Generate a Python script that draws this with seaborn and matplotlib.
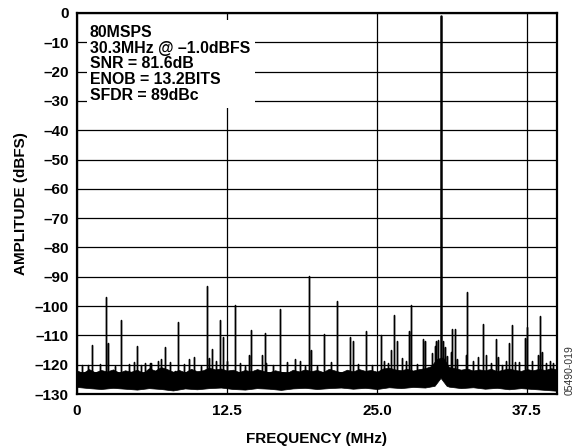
import matplotlib
matplotlib.use("Agg")
import matplotlib.pyplot as plt
import seaborn as sns
import pandas as pd
from matplotlib.patches import Rectangle

# ---------------- data ----------------
fund_freq = 30.3
fund_amp = -1.0

spur_freq = [0.89, 1.28, 2.39, 2.55, 3.64, 4.75, 4.97, 5.67, 6.08, 6.2, 6.72, 7.0, 7.33,
             7.75, 8.17, 8.42, 9.36, 9.75, 10.86, 11.0, 11.22, 11.56, 11.92, 12.14, 12.53,
             13.19, 14.33, 14.5, 15.42, 15.64, 15.75, 16.89, 18.17, 19.0, 19.33, 19.5,
             20.58, 21.69, 22.75, 22.97, 24.06, 25.31, 25.58, 26.17, 26.44, 26.64, 27.06,
             27.7, 27.81, 28.81, 29.0, 29.6, 29.8, 29.95, 30.1, 30.5, 30.65, 30.8, 31.14,
             31.28, 31.5, 31.64, 32.39, 32.53, 33.44, 33.81, 34.06, 34.92, 35.11, 35.75,
             36.0, 36.22, 36.5, 37.33, 37.5, 38.44, 38.61, 38.78, 39.42, 39.69,
             0.4, 1.9, 3.2, 4.3, 5.3, 8.9, 10.3, 13.6, 14.0, 16.3, 17.5, 18.6, 20.0, 21.2,
             23.4, 24.6, 25.9, 27.4, 28.3, 33.0, 34.5, 35.4, 36.8, 37.9, 39.1]
spur_amp = [-120.0, -113.2, -97.0, -112.6, -104.6, -119.0, -113.5, -119.4, -119.5, -119.5,
            -118.9, -118.0, -114.0, -119.0, -122.0, -105.4, -118.0, -117.4, -93.3, -117.6,
            -114.6, -118.6, -104.6, -110.7, -118.6, -99.8, -116.6, -108.0, -116.6, -109.1,
            -119.4, -100.9, -118.0, -120.6, -89.6, -114.9, -109.4, -98.2, -110.7, -111.8,
            -108.4, -110.0, -118.6, -115.1, -103.2, -111.8, -117.7, -108.4, -99.5, -111.2,
            -111.8, -116.0, -113.5, -112.0, -111.5, -112.0, -114.0, -117.0, -115.5, -107.7,
            -107.7, -118.0, -116.6, -95.2, -117.4, -106.0, -116.6, -111.1, -117.4, -118.9,
            -112.6, -106.6, -119.0, -110.9, -107.3, -116.6, -103.3, -115.5, -118.6, -119.4,
            -120.2, -119.8, -120.4, -119.6, -120.1, -119.9, -120.3,
            -119.5, -120.3, -120.0, -119.2, -118.8, -120.5, -119.0, -119.8, -120.2, -119.3,
            -118.9, -119.6, -118.8, -119.4, -120.1, -119.0, -118.7, -119.5]

# noise floor envelope: upper edge every 0.5 MHz, lower edge list
noise_up_freq = [i * 0.5 for i in range(81)]
noise_up_amp = [-122.0, -122.8, -121.5, -122.6, -121.8, -122.3, -121.6, -122.7, -121.9, -122.4,
                -121.7, -122.8, -121.2, -122.0, -120.8, -121.5, -122.4, -121.8, -122.6, -121.4,
                -122.2, -121.9, -121.0, -121.6, -121.3, -122.0, -121.7, -122.5, -121.8, -122.3,
                -121.5, -122.1, -122.6, -121.9, -122.4, -122.8, -121.7, -122.3, -121.6, -122.2,
                -121.8, -122.5, -121.4, -122.0, -122.6, -121.7, -122.3, -121.5, -122.1, -121.8,
                -122.4, -121.3, -121.0, -121.6, -121.9, -121.4, -122.0, -121.5, -121.2, -120.5,
                -118.0, -117.5, -120.8, -121.2, -121.7, -121.3, -122.0, -121.6, -121.9, -121.4,
                -122.2, -121.7, -121.3, -121.8, -122.1, -121.5, -121.9, -121.4, -121.8, -121.2,
                -121.6]
noise_lo_freq = [0, 1, 2, 3, 4, 5, 6, 7, 8, 9, 10, 11, 12, 13, 14, 15, 16, 17, 18, 19, 20,
                 21, 22, 23, 24, 25, 26, 27, 28, 29, 29.8, 30.3, 30.8, 31, 32, 33, 34, 35, 36,
                 37, 38, 39, 40]
noise_lo_amp = [-127.6, -128.0, -128.3, -127.9, -128.2, -128.5, -128.0, -128.3, -128.8, -128.1,
                -128.4, -128.0, -127.8, -128.3, -128.5, -128.0, -128.2, -128.6, -128.1, -127.9,
                -128.3, -128.0, -127.8, -128.2, -127.9, -128.3, -127.7, -128.0, -127.6, -127.8,
                -127.2, -124.5, -127.2, -127.5, -128.0, -127.7, -128.2, -127.9, -128.4, -128.0,
                -128.3, -128.6, -128.9]
noise_top = -123.0

x_ticks = [0, 12.5, 25.0, 37.5]
x_tick_labels = ["0", "12.5", "25.0", "37.5"]
y_ticks = list(range(0, -131, -10))
y_tick_labels = ["0"] + ["\u2013%d" % (-v) for v in y_ticks[1:]]

info_lines = ["80MSPS", "30.3MHz @ \u20131.0dBFS", "SNR = 81.6dB",
              "ENOB = 13.2BITS", "SFDR = 89dBc"]

# ---------------- plot ----------------
sns.set_theme(style="white")
plt.rcParams["font.family"] = ["Liberation Sans", "DejaVu Sans"]
plt.rcParams["font.weight"] = "bold"

fig = plt.figure(figsize=(5.77, 4.47), dpi=100)
ax = fig.add_axes([77 / 577, 1 - 394 / 447, 480 / 577, 381 / 447])

# spectrum polyline of spurs
px, py = [], []
for f, a in sorted(zip(spur_freq, spur_amp)):
    px += [f, f, f]
    py += [noise_top, a, noise_top]
spec = pd.DataFrame({"freq": px, "amp": py})

ax.fill_between(noise_up_freq, noise_up_amp,
                [min(u, -124.0) for u in noise_up_amp], color="black", lw=0.5, zorder=3)
ax.fill_between(noise_lo_freq, noise_lo_amp, -122.5, color="black", lw=0.5, zorder=3)
sns.lineplot(data=spec, x="freq", y="amp", sort=False, estimator=None,
             color="black", lw=1.0, ax=ax, zorder=4)
sns.lineplot(x=[fund_freq, fund_freq], y=[noise_top, fund_amp], color="black",
             lw=1.8, ax=ax, zorder=4, estimator=None, sort=False)

ax.set_xlim(0, 40)
ax.set_ylim(-130, 0)
ax.set_xticks(x_ticks)
ax.set_xticklabels(x_tick_labels)
ax.set_yticks(y_ticks)
ax.set_yticklabels(y_tick_labels)
ax.tick_params(axis="both", length=0, labelsize=11, colors="black")
ax.tick_params(axis="x", pad=7)
ax.tick_params(axis="y", pad=6)
ax.grid(True, color="black", lw=0.9, zorder=1)
ax.set_axisbelow(True)
for s in ax.spines.values():
    s.set_color("black")
    s.set_linewidth(1.6)
    s.set_zorder(6)

ax.set_xlabel("FREQUENCY (MHz)", fontsize=11, fontweight="bold", labelpad=10, color="black")
ax.set_ylabel("AMPLITUDE (dBFS)", fontsize=11, fontweight="bold", labelpad=5, color="black")

# info box
ax.add_patch(Rectangle((0.83, -32.3), 14.0, 30.0, facecolor="white", edgecolor="none", zorder=2))
for i, line in enumerate(info_lines):
    ax.text(1.08, -6.6 - 5.4 * i, line, fontsize=11.4, fontweight="bold",
            va="center", ha="left", zorder=5, color="black")

fig.text(570 / 577, 1 - 370 / 447, "05490-019", rotation=90, fontsize=7.5,
         ha="center", va="center", color="#333333", fontweight="normal")

fig.savefig("out.png", dpi=100)
